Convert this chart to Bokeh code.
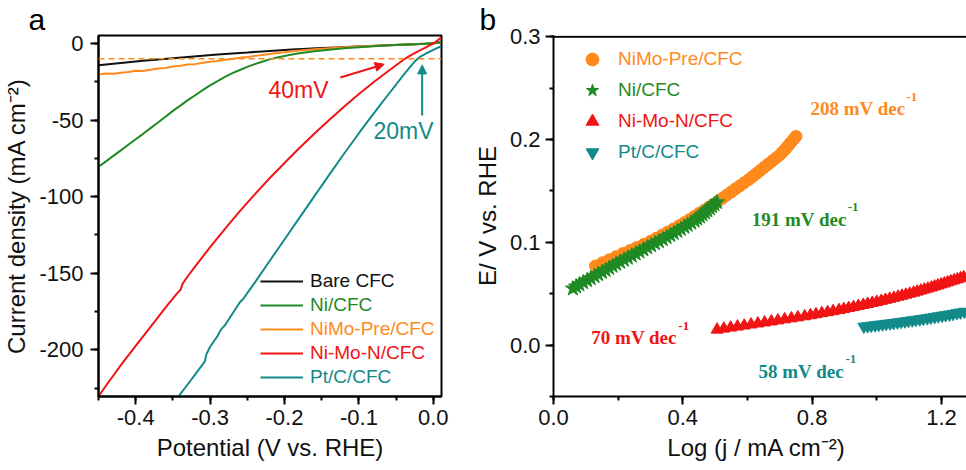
from bokeh.plotting import figure
from bokeh.layouts import row
from bokeh.models import (Legend, LegendItem, Label, Arrow, NormalHead, Span, Title,
                          SingleIntervalTicker, PrintfTickFormatter)
from bokeh.embed import file_html
from bokeh.resources import INLINE

# ---------------- (a) polarization curves: potential (V vs RHE) / current density (mA cm-2)
bare_v = [-0.45, -0.43, -0.41, -0.39, -0.37, -0.35, -0.33, -0.31, -0.29, -0.27, -0.25, -0.23,
          -0.21, -0.19, -0.17, -0.15, -0.13, -0.11, -0.09, -0.07, -0.05, -0.03, -0.01, 0.0, 0.01]
bare_j = [-14.3, -13.2, -12.2, -11.3, -10.4, -9.6, -8.8, -8.0, -7.2, -6.5, -5.9, -5.2,
          -4.6, -4.0, -3.5, -3.0, -2.6, -2.2, -1.8, -1.4, -1.0, -0.6, -0.2, 0.1, 0.8]

ni_v = [-0.45, -0.44, -0.43, -0.42, -0.41, -0.40, -0.39, -0.38, -0.37, -0.36, -0.35, -0.34,
        -0.33, -0.32, -0.31, -0.30, -0.29, -0.28, -0.27, -0.26, -0.25, -0.24, -0.23, -0.22,
        -0.21, -0.20, -0.19, -0.18, -0.16, -0.14, -0.12, -0.10, -0.08, -0.06, -0.04, -0.02,
        0.0, 0.01]
ni_j = [-80.5, -77.0, -73.4, -69.8, -66.1, -62.5, -59.0, -55.3, -51.6, -47.8, -44.0, -40.6,
        -37.0, -33.8, -30.5, -27.4, -24.6, -21.8, -19.4, -17.3, -15.3, -13.5, -11.9, -10.4,
        -9.2, -8.2, -7.2, -6.4, -5.1, -4.1, -3.2, -2.5, -1.8, -1.2, -0.7, -0.3, 0.2, 0.8]

pre_v = [-0.45, -0.44, -0.43, -0.42, -0.41, -0.40, -0.39, -0.38, -0.37, -0.36, -0.35, -0.34,
         -0.33, -0.32, -0.31, -0.30, -0.29, -0.28, -0.27, -0.26, -0.25, -0.24, -0.23, -0.22,
         -0.21, -0.20, -0.18, -0.16, -0.14, -0.12, -0.10, -0.08, -0.06, -0.04, -0.02, 0.0, 0.01]
pre_j = [-20.2, -19.6, -19.8, -19.1, -18.6, -17.8, -18.0, -17.2, -16.3, -16.0, -15.1, -14.6,
         -13.8, -13.5, -12.6, -12.0, -11.4, -10.7, -10.2, -9.4, -8.8, -8.1, -7.5, -6.9,
         -6.2, -5.7, -4.6, -3.8, -3.1, -2.5, -2.0, -1.5, -1.1, -0.7, -0.3, 0.0, 0.4]

nmn_v = [-0.45, -0.44, -0.43, -0.42, -0.40, -0.38, -0.36, -0.345, -0.34, -0.337, -0.33,
         -0.32, -0.30, -0.28, -0.26, -0.24, -0.22, -0.20, -0.18, -0.16, -0.14, -0.12, -0.10,
         -0.08, -0.06, -0.05, -0.04, -0.03, -0.02, -0.01, 0.0, 0.005, 0.011]
nmn_j = [-230.5, -223.5, -216.8, -210.0, -197.5, -185.0, -172.5, -163.5, -161.0, -157.0, -152.0,
         -145.5, -133.0, -121.0, -109.5, -98.5, -88.0, -78.0, -68.3, -59.0, -50.0, -41.3, -33.0,
         -25.2, -17.8, -14.2, -10.6, -7.6, -5.0, -2.6, 0.0, 1.8, 4.0]

pt_v = [-0.345, -0.33, -0.32, -0.31, -0.307, -0.305, -0.30, -0.29, -0.285, -0.28, -0.27,
        -0.26, -0.255, -0.25, -0.24, -0.22, -0.20, -0.18, -0.16, -0.14, -0.12, -0.10, -0.09,
        -0.08, -0.07, -0.06, -0.05, -0.04, -0.03, -0.025, -0.02, -0.015, -0.01, -0.005, 0.0,
        0.005, 0.01]
pt_j = [-232.0, -222.5, -216.0, -209.5, -207.5, -203.0, -198.0, -191.0, -186.5, -184.0, -176.5,
        -169.0, -166.5, -163.0, -156.2, -142.0, -128.0, -113.9, -99.8, -85.8, -72.0, -58.6, -52.0,
        -45.6, -39.3, -33.0, -26.8, -20.5, -14.6, -11.8, -9.5, -8.0, -6.6, -5.4, -4.2,
        -3.0, -2.0]

# ---------------- (b) Tafel plots: log(j / mA cm-2) vs E (V vs RHE)
pre_logj = [0.130, 0.151, 0.172, 0.193, 0.214, 0.236, 0.257, 0.279, 0.300, 0.318, 0.336,
            0.353, 0.371, 0.388, 0.405, 0.420, 0.435, 0.450, 0.465, 0.480, 0.495, 0.509,
            0.523, 0.536, 0.550, 0.563, 0.577, 0.590, 0.604, 0.616, 0.628, 0.640, 0.652,
            0.664, 0.676, 0.688, 0.700, 0.709, 0.718, 0.726, 0.734, 0.742, 0.750]
pre_e = [0.077, 0.080, 0.083, 0.086, 0.089, 0.092, 0.095, 0.098, 0.101, 0.104, 0.107,
         0.110, 0.113, 0.116, 0.119, 0.122, 0.125, 0.128, 0.131, 0.134, 0.137, 0.140,
         0.143, 0.146, 0.149, 0.152, 0.155, 0.158, 0.161, 0.164, 0.167, 0.170, 0.173,
         0.176, 0.179, 0.182, 0.185, 0.188, 0.191, 0.194, 0.197, 0.200, 0.203]

ni_logj = [0.060, 0.070, 0.080, 0.092, 0.104, 0.115, 0.127, 0.138, 0.150, 0.161, 0.172,
           0.183, 0.194, 0.206, 0.218, 0.230, 0.242, 0.254, 0.266, 0.278, 0.290, 0.302,
           0.314, 0.326, 0.338, 0.350, 0.361, 0.372, 0.383, 0.394, 0.405, 0.415, 0.426,
           0.437, 0.445, 0.453, 0.461, 0.469, 0.476, 0.484, 0.491, 0.498, 0.506]
ni_e = [0.055, 0.057, 0.059, 0.061, 0.063, 0.065, 0.067, 0.069, 0.071, 0.073, 0.075,
        0.077, 0.079, 0.081, 0.083, 0.085, 0.087, 0.089, 0.091, 0.093, 0.095, 0.097,
        0.099, 0.101, 0.103, 0.105, 0.107, 0.109, 0.111, 0.113, 0.115, 0.117, 0.119,
        0.121, 0.123, 0.125, 0.127, 0.129, 0.131, 0.133, 0.135, 0.137, 0.139]

nmn_logj = [0.506, 0.527, 0.548, 0.569, 0.590, 0.611, 0.632, 0.653, 0.674, 0.694, 0.715,
            0.736, 0.756, 0.777, 0.795, 0.812, 0.830, 0.848, 0.865, 0.883, 0.898, 0.913,
            0.928, 0.943, 0.958, 0.972, 0.986, 1.000, 1.014, 1.027, 1.040, 1.053, 1.066,
            1.078, 1.090, 1.102, 1.114, 1.125, 1.136, 1.147, 1.158, 1.169, 1.179, 1.189,
            1.199, 1.209, 1.219, 1.229, 1.239, 1.249, 1.259, 1.269]
nmn_e = [0.015, 0.016, 0.017, 0.018, 0.019, 0.020, 0.021, 0.022, 0.023, 0.024, 0.025,
         0.026, 0.027, 0.028, 0.029, 0.030, 0.031, 0.032, 0.033, 0.034, 0.035, 0.036,
         0.037, 0.038, 0.039, 0.040, 0.041, 0.042, 0.043, 0.044, 0.045, 0.046, 0.047,
         0.048, 0.049, 0.050, 0.051, 0.052, 0.053, 0.054, 0.055, 0.056, 0.057, 0.058,
         0.059, 0.060, 0.061, 0.062, 0.063, 0.064, 0.065, 0.066]

pt_logj = [0.960, 0.972, 0.983, 0.995, 1.006, 1.018, 1.029, 1.041, 1.052, 1.064, 1.075,
           1.087, 1.098, 1.110, 1.121, 1.133, 1.144, 1.156, 1.167, 1.179, 1.190, 1.202,
           1.213, 1.225, 1.236, 1.248, 1.259, 1.271]
pt_e = [0.0180, 0.0184, 0.0189, 0.0193, 0.0198, 0.0202, 0.0207, 0.0211, 0.0216, 0.0221,
        0.0226, 0.0231, 0.0236, 0.0241, 0.0246, 0.0251, 0.0257, 0.0262, 0.0268, 0.0274,
        0.0280, 0.0286, 0.0292, 0.0298, 0.0304, 0.0311, 0.0318, 0.0325]

BLACK = "#111111"
GREEN = "#1f8a24"
ORANGE = "#ff8a1c"
RED = "#f01414"
TEAL = "#138a8a"
SANS = "Liberation Sans"
SERIF = "Liberation Serif"


def style_axes(p, xint, yint, xfmt, yfmt):
    p.xgrid.visible = False
    p.ygrid.visible = False
    p.xaxis.ticker = SingleIntervalTicker(interval=xint, num_minor_ticks=2)
    p.yaxis.ticker = SingleIntervalTicker(interval=yint, num_minor_ticks=2)
    p.xaxis.formatter = PrintfTickFormatter(format=xfmt)
    p.yaxis.formatter = PrintfTickFormatter(format=yfmt)
    for ax in (p.xaxis, p.yaxis):
        ax.axis_line_width = 2
        ax.axis_line_color = "black"
        ax.major_tick_line_width = 2
        ax.minor_tick_line_width = 2
        ax.major_tick_in = 0
        ax.major_tick_out = 8
        ax.minor_tick_in = 0
        ax.minor_tick_out = 4
        ax.major_label_text_font = SANS
        ax.major_label_text_font_size = "22px"
        ax.major_label_text_color = "#111111"
        ax.major_label_standoff = 5
        ax.axis_label_text_font = SANS
        ax.axis_label_text_font_size = "24px"
        ax.axis_label_text_font_style = "normal"
        ax.axis_label_text_color = "#111111"
        ax.axis_label_standoff = 6


def add_key(p, label, renderer, color, loc, gw, gh, standoff):
    leg = Legend(items=[LegendItem(label=label, renderers=[renderer])], location=loc,
                 padding=0, margin=0, spacing=0, border_line_color=None,
                 background_fill_alpha=0, glyph_width=gw, glyph_height=gh,
                 label_height=gh, label_standoff=standoff,
                 label_text_font=SANS, label_text_font_size="19px",
                 label_text_color=color)
    p.add_layout(leg)


def panel_letter(p, letter, offset):
    p.add_layout(Title(text=letter, text_font=SANS, text_font_size="30px",
                       text_font_style="normal", text_color="black", align="left",
                       offset=offset, standoff=0), "above")


# ---------------- panel (a)
pa = figure(width=470, height=470, x_range=(-0.45, 0.011), y_range=(-230.5, 5.2),
            output_backend="svg", toolbar_location=None,
            min_border_left=98, min_border_right=29, min_border_top=35, min_border_bottom=73,
            x_axis_label="Potential (V vs. RHE)", y_axis_label="Current density (mA cm⁻²)")
style_axes(pa, 0.1, 50, "%.1f", "%d")
pa.yaxis.major_label_standoff = 7
pa.outline_line_color = "black"
pa.outline_line_width = 2
pa.outline_line_alpha = 1
panel_letter(pa, "a", -70)

pa.add_layout(Span(location=-10, dimension="width", line_color=ORANGE, line_width=1.5,
                   line_dash="6 4"))

r_bare = pa.line(bare_v, bare_j, line_color=BLACK, line_width=2)
r_pre = pa.line(pre_v, pre_j, line_color=ORANGE, line_width=2)
r_ni = pa.line(ni_v, ni_j, line_color=GREEN, line_width=2)
r_nmn = pa.line(nmn_v, nmn_j, line_color=RED, line_width=2)
r_pt = pa.line(pt_v, pt_j, line_color=TEAL, line_width=2)

keys_a = [("Bare CFC", r_bare, BLACK, 104), ("Ni/CFC", r_ni, GREEN, 80),
          ("NiMo-Pre/CFC", r_pre, ORANGE, 56), ("Ni-Mo-N/CFC", r_nmn, RED, 32),
          ("Pt/C/CFC", r_pt, TEAL, 8)]
for lab, r, c, vy in keys_a:
    add_key(pa, lab, r, c, (162, vy), 43, 20, 7)

pa.add_layout(Arrow(x_start=-0.125, y_start=-22.2, x_end=-0.066, y_end=-13.6,
                    line_color=RED, line_width=2,
                    end=NormalHead(size=9, fill_color=RED, line_color=RED)))
pa.add_layout(Label(x=-0.2215, y=-30.6, text="40mV", text_color=RED, text_font=SANS,
                    text_font_size="23px", text_baseline="middle"))
pa.add_layout(Arrow(x_start=-0.015, y_start=-47, x_end=-0.015, y_end=-14,
                    line_color=TEAL, line_width=2,
                    end=NormalHead(size=9, fill_color=TEAL, line_color=TEAL)))
pa.add_layout(Label(x=-0.0805, y=-57.4, text="20mV", text_color=TEAL, text_font=SANS,
                    text_font_size="23px", text_baseline="middle"))

# ---------------- panel (b)
pb = figure(width=496, height=470, x_range=(0.0, 1.2775), y_range=(-0.05, 0.3012),
            output_backend="svg", toolbar_location=None,
            min_border_left=76, min_border_right=0, min_border_top=35, min_border_bottom=74,
            x_axis_label="Log  (j / mA cm⁻²)", y_axis_label="E/ V vs. RHE")
style_axes(pb, 0.4, 0.1, "%.1f", "%.1f")
pb.outline_line_color = None
panel_letter(pb, "b", -74)
# top frame edge only (the panel is open on the right)
pb.add_layout(Span(location=0.3, dimension="width", line_color="black", line_width=2))

s_pre = pb.scatter(pre_logj, pre_e, marker="circle", size=12, color=ORANGE)
s_ni = pb.scatter(ni_logj, ni_e, marker="star", size=16, color=GREEN)
s_nmn = pb.scatter(nmn_logj, nmn_e, marker="triangle", size=12, color=RED)
s_pt = pb.scatter(pt_logj, pt_e, marker="inverted_triangle", size=12, color=TEAL)

keys_b = [("NiMo-Pre/CFC", s_pre, ORANGE, 321), ("Ni/CFC", s_ni, GREEN, 290),
          ("Ni-Mo-N/CFC", s_nmn, RED, 259), ("Pt/C/CFC", s_pt, TEAL, 228)]
for lab, r, c, vy in keys_b:
    add_key(pb, lab, r, c, (23, vy), 32, 32, 10)

slopes = [("208 mV dec", 0.795, 0.2301, ORANGE, 95), ("191 mV dec", 0.613, 0.1223, GREEN, 95),
          ("70 mV dec", 0.117, 0.0071, RED, 86), ("58 mV dec", 0.634, -0.0252, TEAL, 86)]
for txt, x, y, c, w in slopes:
    pb.add_layout(Label(x=x, y=y, text=txt, text_color=c, text_font=SERIF,
                        text_font_style="bold", text_font_size="19px",
                        text_baseline="alphabetic"))
    pb.add_layout(Label(x=x, y=y, x_offset=w + 1, y_offset=12, text="-1", text_color=c,
                        text_font=SERIF, text_font_style="bold", text_font_size="13px",
                        text_baseline="alphabetic"))

layout = row(pa, pb)
open("out.html", "w").write(file_html(layout, INLINE))
